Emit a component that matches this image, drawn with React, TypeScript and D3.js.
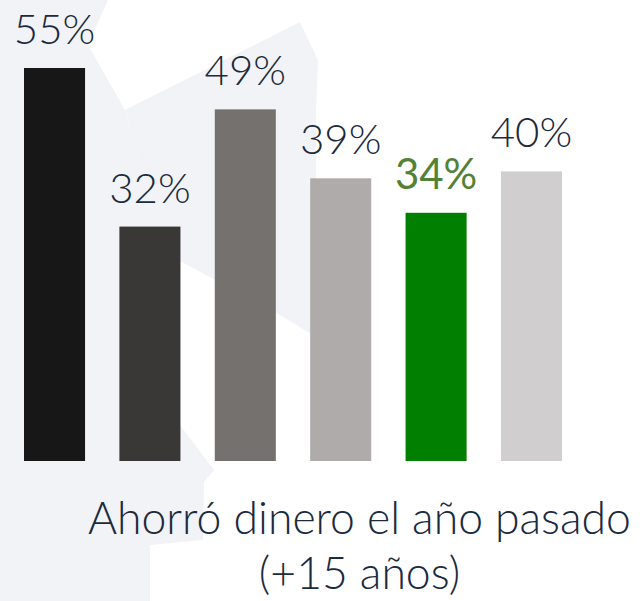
import * as d3 from "d3";
import React from "react";

// values
const categories = ["A", "B", "C", "D", "E", "F"];
const values = [55, 32, 49, 39, 34, 40];
const barColors = ["#171717", "#3a3836", "#75716f", "#afabaa", "#007f00", "#d0cecf"];
const labelColors = ["#1b2a3d", "#1b2a3d", "#1b2a3d", "#1b2a3d", "#538135", "#1b2a3d"];
const titleLines = ["Ahorró dinero el año pasado", "(+15 años)"];

const W = 644;
const H = 601;
const FONT = "Lato, 'Open Sans', sans-serif";
const shade = "#f1f3f6";

const App = () => {
  const x = d3.scaleBand().domain(categories).range([24, 562]).paddingInner(0.36).paddingOuter(0);
  const y = d3.scaleLinear().domain([-2, 55]).range([461, 68]);

  const data = categories.map((c, i) => ({ c, v: values[i], fill: barColors[i], lc: labelColors[i] }));

  // faint watermark shapes behind the bars
  const bg = [
    [[0, 0], [108, 0], [88, 45], [125, 110], [150, 200], [150, 245], [176, 420], [214, 470], [204, 482], [203, 540], [150, 545], [150, 601], [0, 601]],
    [[125, 110], [300, 22], [318, 60], [316, 110], [316, 337], [275, 312], [150, 245], [150, 200]],
  ];
  const line = d3.line();

  return (
    <svg
      width={W}
      height={H}
      style={{ position: "absolute", left: 0, top: 0, background: "#fff" }}
    >
      {bg.map((p, i) => (
        <path key={i} d={line(p as [number, number][]) + "Z"} fill={shade} />
      ))}
      {data.map((d) => (
        <g key={d.c}>
          <rect
            x={x(d.c)}
            y={y(d.v)}
            width={x.bandwidth()}
            height={y(-2) - y(d.v)}
            fill={d.fill}
          />
          <text
            x={(x(d.c) as number) + x.bandwidth() / 2}
            y={y(d.v) - 24}
            textAnchor="middle"
            fontFamily={FONT}
            fontWeight={d.c === "E" ? 400 : 300}
            fontSize={42}
            fill={d.lc}
          >
            {d.v}%
          </text>
        </g>
      ))}
      {titleLines.map((t, i) => (
        <text
          key={i}
          x={359.5}
          y={534 + i * 55}
          textAnchor="middle"
          fontFamily={FONT}
          fontWeight={300}
          fontSize={44.5}
          fill="#1b2a3d"
        >
          {t}
        </text>
      ))}
    </svg>
  );
};

export default App;
